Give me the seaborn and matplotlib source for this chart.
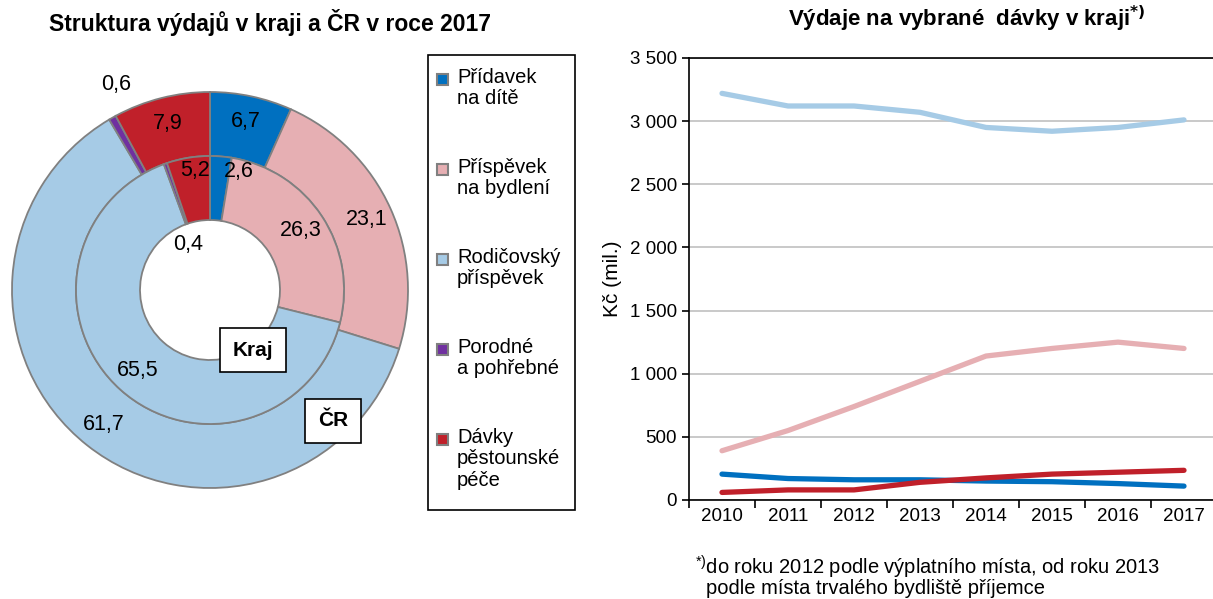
import numpy as np
import pandas as pd
import seaborn as sns
from matplotlib import pyplot as plt
from matplotlib.patches import Rectangle

sns.set_style('white')
plt.rcParams['font.family'] = ['Liberation Sans', 'DejaVu Sans']
plt.rcParams['mathtext.default'] = 'regular'
for k in ['text.color', 'axes.labelcolor', 'xtick.color', 'ytick.color']:
    plt.rcParams[k] = 'black'

# data
categories = ['Přídavek\nna dítě', 'Příspěvek\nna bydlení', 'Rodičovský\npříspěvek',
              'Porodné\na pohřebné', 'Dávky\npěstounské\npéče']
colors = ['#0070C0', '#E6AFB3', '#A6CBE6', '#7030A0', '#C0202A']
cr_share = [6.7, 23.1, 61.7, 0.6, 7.9]
kraj_share = [2.6, 26.3, 65.5, 0.4, 5.2]

years = [2010, 2011, 2012, 2013, 2014, 2015, 2016, 2017]
pridavek = [205, 170, 160, 160, 150, 145, 130, 110]
bydleni = [390, 550, 740, 940, 1140, 1200, 1250, 1200]
rodicovsky = [3220, 3120, 3120, 3070, 2950, 2920, 2950, 3010]
pestounske = [60, 80, 80, 140, 175, 205, 220, 235]

W, H = 1213, 599
fig = plt.figure(figsize=(W / 100, H / 100), dpi=100)
edge = '#808080'


def fx(px):
    return px / W


def fy(py):
    return 1 - py / H


# ---- pie (donut) ----
ax = fig.add_axes([10 / W, 109 / H, 400 / W, 400 / H])
ax.pie(cr_share, radius=198, colors=colors, startangle=90, counterclock=False,
       wedgeprops=dict(width=64, edgecolor=edge, linewidth=1.3))
ax.pie(kraj_share, radius=134, colors=colors, startangle=90, counterclock=False,
       wedgeprops=dict(width=64, edgecolor=edge, linewidth=1.3))
ax.set_xlim(-200, 200)
ax.set_ylim(-200, 200)
ax.set_aspect('equal')
ax.axis('off')


def put_labels(shares, r, special):
    cum = np.cumsum([0] + shares)
    for i, v in enumerate(shares):
        mid = (cum[i] + cum[i + 1]) / 2 / 100 * 2 * np.pi
        rr, dang = special.get(i, (r, 0))
        a = mid + np.deg2rad(dang)
        ax.text(rr * np.sin(a), rr * np.cos(a), f'{v:.1f}'.replace('.', ','),
                ha='center', va='center', fontsize=15.5)


put_labels(cr_share, 172, {3: (226, 5)})
put_labels(kraj_share, 108, {0: (122, 9), 3: (50, -6), 4: (120, 2)})

ax.text(43, -60, 'Kraj', ha='center', va='center', fontsize=15, fontweight='bold',
        bbox=dict(boxstyle='square,pad=0.62', fc='white', ec='black', lw=1.2))
ax.text(123, -131, 'ČR', ha='center', va='center', fontsize=15, fontweight='bold',
        bbox=dict(boxstyle='square,pad=0.62', fc='white', ec='black', lw=1.2))

fig.text(fx(270), fy(22), 'Struktura výdajů v kraji a ČR v roce 2017',
         ha='center', va='center', fontsize=16.5, fontweight='bold')

# legend box (handle at the first text line, as in the original)
fig.patches.append(Rectangle((fx(428), fy(510)), (575 - 428) / W, (510 - 55) / H,
                             transform=fig.transFigure, fill=False, ec='black', lw=1.2))
for i, (lab, c) in enumerate(zip(categories, colors)):
    y0 = 80 + 90 * i
    fig.patches.append(Rectangle((fx(437), fy(y0 + 5)), 11 / W, 11 / H,
                                 transform=fig.transFigure, fc=c, ec=edge, lw=1.5))
    fig.text(fx(457), fy(y0 - 12), lab, ha='left', va='top', fontsize=14.5,
             linespacing=1.15)

# ---- lines ----
df = pd.DataFrame({'rok': years * 4,
                   'hodnota': pridavek + bydleni + rodicovsky + pestounske,
                   'davka': [c for c in categories[:3] + categories[4:] for _ in years]})
line_colors = [colors[0], colors[1], colors[2], colors[4]]

ax2 = fig.add_axes([689 / W, 99 / H, 528 / W, 442 / H])
sns.lineplot(data=df, x='rok', y='hodnota', hue='davka', palette=line_colors,
             linewidth=3.8, legend=False, ax=ax2)
ax2.set_xlim(2009.5, 2017.5)
ax2.set_ylim(0, 3500)
ax2.set_xticks(np.arange(2009.5, 2018, 1))
ax2.set_xticklabels([])
ax2.set_xticks(years, minor=True)
ax2.set_xticklabels([str(y) for y in years], minor=True, fontsize=13.5)
ax2.tick_params(axis='x', which='major', direction='out', length=6, width=1.2,
                color='black', bottom=True)
ax2.tick_params(axis='x', which='minor', length=0, pad=6)
yt = np.arange(0, 3501, 500)
ax2.set_yticks(yt)
ax2.set_yticklabels([f'{v:,}'.replace(',', ' ') for v in yt], fontsize=13.5)
ax2.tick_params(axis='y', direction='out', length=5, width=1.2, color='black', left=True)
ax2.yaxis.grid(True, color='#C0C0C0', linewidth=1.2)
ax2.set_axisbelow(True)
for s in ['left', 'bottom', 'top']:
    ax2.spines[s].set_color('black')
    ax2.spines[s].set_linewidth(1.2)
ax2.spines['right'].set_visible(False)
ax2.set_xlabel('')
ax2.set_ylabel('Kč (mil.)', fontsize=15, labelpad=6)

fig.text(fx(967), fy(19), r'Výdaje na vybrané  dávky v kraji$\mathbf{^{*)}}$',
         ha='center', va='center', fontsize=16, fontweight='bold')
fig.text(fx(695), fy(567), '$^{*)}$do roku 2012 podle výplatního místa, od roku 2013',
         ha='left', va='center', fontsize=14.5)
fig.text(fx(706), fy(589), 'podle místa trvalého bydliště příjemce',
         ha='left', va='center', fontsize=14.5)

fig.savefig('out.png', dpi=100)
